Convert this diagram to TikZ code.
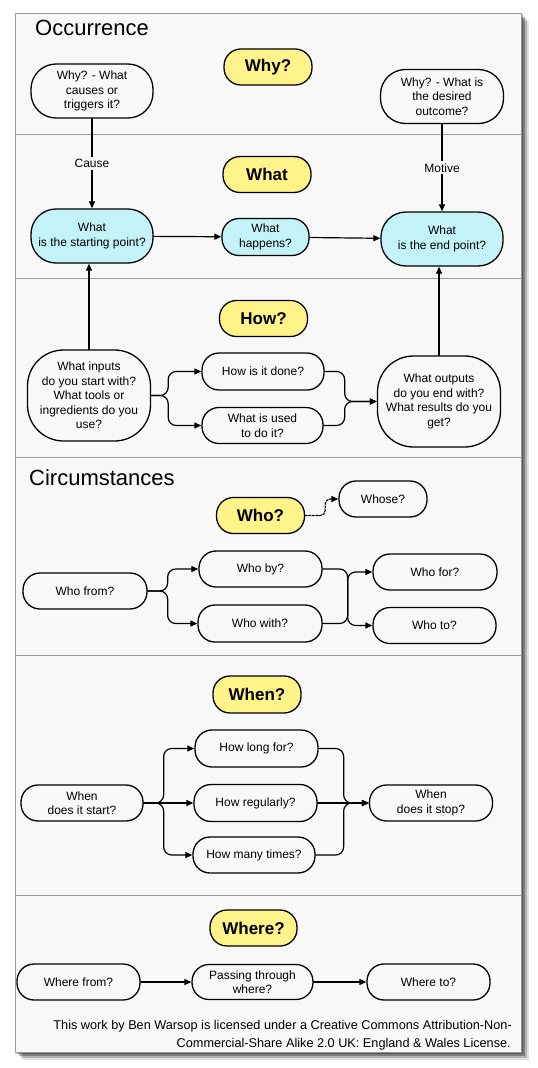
\documentclass[tikz,border=0pt]{standalone}
\usepackage{fontspec}
\setmainfont{Liberation Sans}
\usetikzlibrary{arrows.meta}
\definecolor{panelbg}{HTML}{F8F8F8}
\definecolor{headfill}{HTML}{FFF38A}
\definecolor{pointfill}{HTML}{C4F3F7}
\definecolor{rulegray}{HTML}{9A9A9A}
\begin{document}
\begin{tikzpicture}[x=1pt, y=-1pt, line join=round, line cap=round,
    >={Triangle[length=7pt,width=6pt]}, font=\fontsize{12}{14.5}\selectfont,
    box/.style={draw, line width=1.3pt, fill=panelbg, rounded corners=17pt,
      minimum width=123pt, minimum height=36pt, inner sep=2pt, align=center},
    tall/.style={box, rounded corners=25pt, minimum height=54pt},
    big/.style={box, rounded corners=36pt, minimum height=91pt},
    head/.style={box, fill=headfill, minimum width=88pt,
      font=\fontsize{17}{20}\selectfont\bfseries},
    link/.style={->, line width=1.2pt},
    fork/.style={link, rounded corners=8pt},
    rule/.style={rulegray, line width=1pt},
    title/.style={anchor=base west, inner sep=0pt, font=\fontsize{22}{26}\selectfont},
    licence/.style={anchor=base east, inner sep=0pt, font=\fontsize{12.7}{15}\selectfont}]
  \useasboundingbox (0,0) rectangle (538,1068);
  % panel and its shadow
  \foreach \s/\o in {8/0.12,6/0.2,4/0.3,2/0.35}
    \fill[black, opacity=\o] (15+\s,13+\s) rectangle (521+\s,1052+\s);
  \fill[panelbg] (15,13) rectangle (521,1052);
  \draw[rulegray, line width=0.8pt] (15,13) rectangle (521,1052);
  \foreach \y in {134,278,457,655,895}
    \draw[rule] (15,\y) -- (521,\y);

  % occurrence
  \node[title] (occ) at (35,35) {Occurrence};
  \node[head] (hWhy) at (268,67) {Why?};
  \node[tall, minimum width=122pt] (why1) at (92,91) {Why? - What\\causes or\\triggers it?};
  \node[tall] (why2) at (442,96.5) {Why? - What is\\the desired\\outcome?};
  \node[head] (hWhat) at (267,174.5) {What};
  \node[tall, fill=pointfill, minimum width=122pt] (start) at (92,236) {What\\is the starting point?};
  \node[box, fill=pointfill, minimum width=87pt, minimum height=37pt] (happens) at (265.5,237) {What\\happens?};
  \node[tall, fill=pointfill, minimum width=122pt] (endpt) at (442,239) {What\\is the end point?};
  \node[head] (hHow) at (263.5,318.5) {How?};
  \node[big] (inputs) at (89,395.5) {What inputs\\do you start with?\\What tools or\\ingredients do you\\use?};
  \node[box, minimum width=122pt, minimum height=37pt] (done) at (263,371.5) {How is it done?};
  \node[box, minimum width=121pt] (used) at (262.5,425.5) {What is used\\to do it?};
  \node[big] (outputs) at (439,401.5) {What outputs\\do you end with?\\What results do you\\get?};

  \draw[link] (why1) -- node[fill=panelbg, inner sep=2pt] {Cause} (start);
  \draw[link] (why2) -- node[fill=panelbg, inner sep=2pt] {Motive} (endpt);
  \draw[link] (start) -- (happens);
  \draw[link] (happens) -- (endpt);
  \draw[link] (inputs.north) -- (inputs.north |- start.south);
  \draw[link] (outputs.north) -- (outputs.north |- endpt.south);
  \draw[fork] (inputs.east) -- ++(17,0) |- (done.west);
  \draw[fork] (inputs.east) -- ++(17,0) |- (used.west);
  \draw[fork] (done.east) -- ++(20,0) |- (outputs.west);
  \draw[fork] (used.east) -- ++(21,0) |- (outputs.west);

  % circumstances
  \node[title] (circ) at (29,485) {Circumstances};
  \node[head] (hWho) at (260.5,515.5) {Who?};
  \node[box, minimum width=88pt] (whose) at (383,499) {Whose?};
  \node[box, minimum width=124pt] (whofrom) at (85,591) {Who from?};
  \node[box] (whoby) at (260.5,569) {Who by?};
  \node[box, minimum width=124pt, minimum height=37pt] (whowith) at (260,623.5) {Who with?};
  \node[box, minimum width=124pt] (whofor) at (435,572) {Who for?};
  \node[box] (whoto) at (434.5,625.5) {Who to?};

  \draw[link, dash pattern=on 2pt off 1.6pt, rounded corners=5pt] (hWho.east) -- ++(20,0) |- (whose.west);
  \draw[fork] (whofrom.east) -- ++(20,0) |- (whoby.west);
  \draw[fork] (whofrom.east) -- ++(20,0) |- (whowith.west);
  \draw[fork] (whoby.east) -- ++(25,0) |- (whoto.west);
  \draw[fork] (whowith.east) -- ++(25,0) |- (whofor.west);

  \node[head, minimum height=37pt] (hWhen) at (257,694.5) {When?};
  \node[box, minimum width=122pt] (wstart) at (82,803) {When\\does it start?};
  \node[box, minimum height=37pt] (howlong) at (256.5,748.5) {How long for?};
  \node[box, minimum height=37pt] (howreg) at (255.5,803) {How regularly?};
  \node[box, minimum width=122pt] (howmany) at (254,855) {How many times?};
  \node[box] (wstop) at (431,803) {When\\does it stop?};

  \draw[fork] (wstart.east) -- ++(20,0) |- (howlong.west);
  \draw[link] (wstart) -- (howreg);
  \draw[fork] (wstart.east) -- ++(20,0) |- (howmany.west);
  \draw[fork] (howlong.east) -- ++(25,0) |- (wstop.west);
  \draw[link] (howreg) -- (wstop);
  \draw[fork] (howmany.east) -- ++(28,0) |- (wstop.west);

  \node[head, minimum width=87pt] (hWhere) at (253.5,928) {Where?};
  \node[box] (wfrom) at (78.5,982) {Where from?};
  \node[box, minimum width=121pt, minimum height=35pt] (wpass) at (252.5,982) {Passing through\\where?};
  \node[box] (wto) at (428.5,982) {Where to?};

  \draw[link] (wfrom) -- (wpass);
  \draw[link] (wpass) -- (wto);

  \node[licence] (lic1) at (512,1029)
    {This work by Ben Warsop is licensed under a Creative Commons Attribution-Non-};
  \node[licence] (lic2) at (511,1047)
    {Commercial-Share Alike 2.0 UK: England \& Wales License.};
\end{tikzpicture}
\end{document}
